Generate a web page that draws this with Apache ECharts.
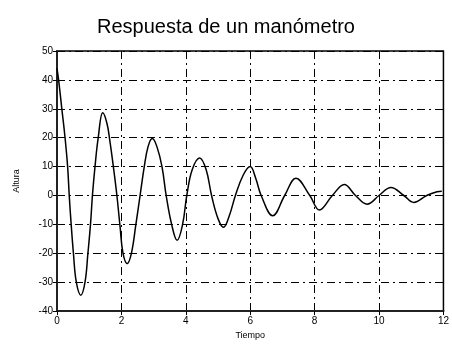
<!DOCTYPE html>
<html>
<head>
<meta charset="utf-8">
<script src="https://cdn.jsdelivr.net/npm/echarts@6/dist/echarts.min.js"></script>
<style>
  html, body { margin: 0; padding: 0; background: #fff; }
  #chart { width: 452px; height: 345px; }
</style>
</head>
<body>
<div id="chart"></div>
<script>
// lecturas de la curva (tiempo, altura)
const tiempo = [0, 0.05, 0.15, 0.25, 0.33, 0.38, 0.44, 0.51, 0.6, 0.74,
  0.87, 0.96, 1.04, 1.1, 1.18, 1.28, 1.42, 1.55, 1.64, 1.75,
  1.86, 1.96, 2.05, 2.18, 2.31, 2.45, 2.58, 2.71, 2.83, 2.96,
  3.1, 3.26, 3.39, 3.56, 3.73, 3.9, 4.03, 4.2, 4.43, 4.63,
  4.8, 5.0, 5.17, 5.35, 5.54, 5.78, 6.0, 6.17, 6.34, 6.7,
  7.07, 7.42, 7.85, 8.15, 8.55, 8.92, 9.27, 9.63, 10.0, 10.37,
  10.77, 11.08, 11.48, 11.8, 11.95];
const altura = [44, 40, 30, 20, 10, 0, -10, -20, -30, -34.5,
  -30, -20, -10, 0, 10, 20, 28.6, 25, 19, 10,
  0, -11, -20, -23.5, -20, -10, 0, 10, 17, 19.7,
  17, 10, 0, -10, -15.5, -10, 0, 9, 13, 9,
  0, -8, -11, -7, 0, 7, 10, 6, 0, -7,
  0, 6, 0, -5, 0, 3.8, 0, -3, 0, 2.8,
  0, -2.4, 0, 1.3, 1.5];

const xTicks = ['0', '2', '4', '6', '8', '10', '12'];
const yTicks = ['-40', '-30', '-20', '-10', '0', '10', '20', '30', '40', '50'];

const chart = echarts.init(document.getElementById('chart'));
const font = 'Liberation Sans, Arial, sans-serif';
const dashDot = [8, 4, 2, 4];

chart.setOption({
  animation: false,
  backgroundColor: '#fff',
  title: {
    text: 'Respuesta de un manómetro',
    left: 'center',
    top: 12,
    textStyle: { fontFamily: font, fontSize: 20, fontWeight: 'normal', color: '#000' }
  },
  grid: {
    left: 57, right: 7, top: 51, bottom: 33,
    show: true, borderColor: '#000', borderWidth: 1.5, backgroundColor: 'transparent'
  },
  xAxis: {
    type: 'value',
    min: 0, max: 12, interval: 2,
    name: 'Tiempo',
    nameLocation: 'middle',
    nameGap: 18,
    nameTextStyle: { fontFamily: font, fontSize: 9, color: '#000' },
    axisLine: { onZero: false, lineStyle: { color: '#222', width: 2 } },
    axisTick: { length: 4, lineStyle: { color: '#000' } },
    axisLabel: {
      fontFamily: font, fontSize: 10, color: '#000', margin: 5,
      formatter: v => xTicks[Math.round(v / 2)]
    },
    splitLine: { show: true, lineStyle: { color: '#000', width: 1, type: dashDot } }
  },
  yAxis: {
    type: 'value',
    min: -40, max: 50, interval: 10,
    name: 'Altura',
    nameLocation: 'middle',
    nameGap: 36,
    nameTextStyle: { fontFamily: font, fontSize: 9, color: '#000' },
    axisLine: { show: true, onZero: false, lineStyle: { color: '#222', width: 2 } },
    axisTick: { show: true, length: 4, lineStyle: { color: '#000' } },
    axisLabel: {
      fontFamily: font, fontSize: 10, color: '#000', margin: 4,
      formatter: v => yTicks[Math.round((v + 40) / 10)]
    },
    splitLine: { show: true, lineStyle: { color: '#000', width: 1, type: dashDot } }
  },
  series: [{
    type: 'line',
    data: tiempo.map((t, i) => [t, altura[i]]),
    smooth: 0.4,
    showSymbol: false,
    lineStyle: { color: '#000', width: 1.5 }
  }]
});
</script>
</body>
</html>
